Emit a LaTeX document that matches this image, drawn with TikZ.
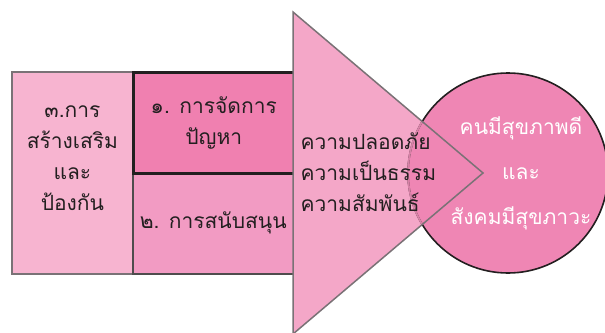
\documentclass[tikz,border=0pt]{standalone}
\usepackage{fontspec}
\newfontfamily\thaifont[Script=Thai]{Loma}
\definecolor{lbox}{HTML}{F7B4D0}
\definecolor{boxone}{HTML}{F080B0}
\definecolor{boxtwo}{HTML}{F29BC3}
\definecolor{tri}{HTML}{F4A7C8}
\definecolor{circ}{HTML}{EF86B4}
\definecolor{txt}{HTML}{231F20}
\definecolor{edgegray}{HTML}{7A7276}
\tikzset{
  thai/.style={font=\thaifont\fontsize{21}{31}\selectfont, text=txt, align=center},
  whitethai/.style={font=\thaifont\fontsize{21}{45}\selectfont, text=white, align=center},
}
\begin{document}
\begin{tikzpicture}[x=1pt,y=-1pt]
\useasboundingbox (0,0) rectangle (605,332);
% left box
\node[draw=edgegray, line width=1.8pt, fill=lbox, minimum width=121pt, minimum height=202pt, anchor=north west, inner sep=0pt] (left) at (11,71) {};
% box 2
\node[draw=txt!80, line width=1.5pt, fill=boxtwo, minimum width=161pt, minimum height=101pt, anchor=north west, inner sep=0pt] (two) at (132,172) {};
% box 1
\node[draw=txt, line width=2.6pt, fill=boxone, minimum width=161pt, minimum height=101pt, anchor=north west, inner sep=0pt] (one) at (132,71) {};
% triangle fill
\coordinate (ttop) at (293,12);
\coordinate (tbot) at (293,334);
\coordinate (ttip) at (483,173);
\fill[tri] (ttop) -- (ttip) -- (tbot) -- cycle;
% circle
\node[circle, draw=txt, line width=1.6pt, fill=circ, minimum size=200pt, inner sep=0pt] (goal) at (508,173) {};
\begin{scope}
  \clip (ttop) -- (ttip) -- (tbot) -- cycle;
  \draw[line width=1.8pt, color=circ!85!black!70!tri] (goal.center) circle[radius=100pt];
\end{scope}
\draw[edgegray, line width=1.5pt, line join=miter] (ttop) -- (ttip) -- (tbot) -- cycle;
% texts
\node[thai] (t3) at ([yshift=15pt]left.center) {๓.การ\\สร้างเสริม\\และ\\ป้องกัน};
\node[thai] (t1) at (one.center) {๑. การจัดการ\\ปัญหา};
\node[thai] (t2) at (two.center) {๒. การสนับสนุน};
\node[thai, align=left, anchor=west] (tm) at (297,172) {ความปลอดภัย\\ความเป็นธรรม\\ความสัมพันธ์};
\node[whitethai] (tg) at (521,173) {คนมีสุขภาพดี\\และ\\สังคมมีสุขภาวะ};
\end{tikzpicture}
\end{document}
